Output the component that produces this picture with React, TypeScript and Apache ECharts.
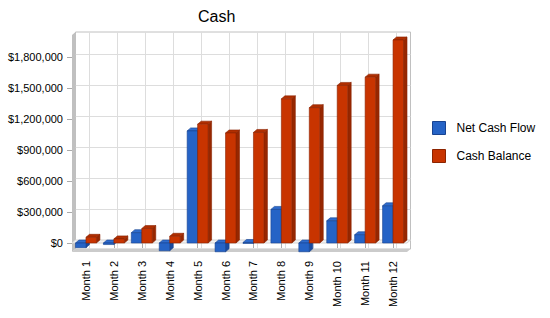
import React, { useEffect, useRef } from "react";
import * as echarts from "echarts";

const months = ["Month 1", "Month 2", "Month 3", "Month 4", "Month 5", "Month 6", "Month 7", "Month 8", "Month 9", "Month 10", "Month 11", "Month 12"];
const netCashFlow = [-45000, -15000, 100000, -75000, 1085000, -85000, 5000, 325000, -85000, 215000, 80000, 360000];
const cashBalance = [55000, 40000, 140000, 65000, 1150000, 1065000, 1070000, 1395000, 1310000, 1525000, 1605000, 1965000];
const yTicks = [0, 300000, 600000, 900000, 1200000, 1500000, 1800000];
const seriesNames = ["Net Cash Flow", "Cash Balance"];
const Y_MIN = -87000;
const Y_MAX = 2013000;

const FONT = "'Liberation Sans', Arial, sans-serif";
const BLUE = { front: "#2563c6", side: "#1a4a9e", top: "#2e6bcc", edge: "#184391" };
const RED = { front: "#c83400", side: "#972700", top: "#b02e00", edge: "#8c2400" };
const DX = 3.5;
const DY = 3;

function make3DRender(seriesIdx: number, c: typeof BLUE) {
  return (params: any, api: any) => {
    const idx = api.value(0);
    const val = api.value(1);
    const band = api.size([1, 0])[0];
    const w = band * 0.375;
    const p = api.coord([idx, val]);
    const p0 = api.coord([idx, 0]);
    const cx = p[0];
    const x = seriesIdx === 0 ? cx - w : cx;
    const top = Math.min(p[1], p0[1]);
    let bot = Math.max(p[1], p0[1]);
    if (bot - top < 1) bot = top + 1;
    return {
      type: "group",
      children: [
        {
          type: "polygon",
          shape: { points: [[x + w, top], [x + w + DX, top - DY], [x + w + DX, bot - DY], [x + w, bot]] },
          style: { fill: c.side, stroke: c.edge, lineWidth: 0.6 },
        },
        {
          type: "polygon",
          shape: { points: [[x, top], [x + DX, top - DY], [x + w + DX, top - DY], [x + w, top]] },
          style: { fill: c.top, stroke: c.edge, lineWidth: 0.6 },
        },
        {
          type: "rect",
          shape: { x, y: top, width: w, height: bot - top },
          style: { fill: c.front, stroke: c.edge, lineWidth: 0.6 },
        },
      ],
    };
  };
}

function renderFrame(params: any, api: any) {
  const cs = params.coordSys;
  const L = cs.x;
  const T = cs.y;
  const R = cs.x + cs.width;
  const B = cs.y + cs.height;
  const z0 = api.coord([0, 0])[1];
  return {
    type: "group",
    children: [
      {
        type: "polygon",
        shape: { points: [[L, T], [L + DX, T - DY], [L + DX, B - DY], [L, B]] },
        style: { fill: "#c0c0c0" },
      },
      {
        type: "polygon",
        shape: { points: [[L, B], [L + DX, B - DY], [R + DX, B - DY], [R, B]] },
        style: { fill: "#cbcbcb" },
      },
      {
        type: "polygon",
        shape: { points: [[L, z0], [L + DX, z0 - DY], [R + DX, z0 - DY], [R, z0]] },
        style: { fill: "#f3f3f3", stroke: "#d4d4d4", lineWidth: 1 },
      },
    ],
  };
}

export default function App() {
  const ref = useRef<HTMLDivElement>(null);
  useEffect(() => {
    document.body.style.margin = "0";
    if (!ref.current) return;
    const chart = echarts.init(ref.current, undefined, { renderer: "svg" });
    chart.setOption({
      animation: false,
      backgroundColor: "#ffffff",
      textStyle: { fontFamily: FONT },
      title: {
        text: "Cash",
        left: 193,
        top: 3,
        textStyle: { fontSize: 16, fontWeight: "normal", color: "#000", fontFamily: FONT },
      },
      legend: {
        orient: "vertical",
        left: 432,
        top: 121,
        padding: 0,
        itemWidth: 13,
        itemHeight: 13,
        itemGap: 14,
        textStyle: { fontSize: 12, color: "#000", fontFamily: FONT, padding: [0, 0, 0, 6] },
        data: [
          { name: seriesNames[0], icon: "rect", itemStyle: { color: BLUE.front, borderColor: BLUE.edge, borderWidth: 1 } },
          { name: seriesNames[1], icon: "rect", itemStyle: { color: RED.front, borderColor: RED.edge, borderWidth: 1 } },
        ],
      },
      grid: [
        { left: 72, top: 35, width: 335, height: 217 },
        { left: 72 + DX, top: 35 - DY, width: 335, height: 217, show: true, borderColor: "#c0c0c0", borderWidth: 1, backgroundColor: "transparent" },
      ],
      xAxis: [
        {
          type: "category",
          gridIndex: 0,
          data: months,
          axisLine: { show: false },
          axisTick: { show: true, alignWithLabel: true, length: 5, lineStyle: { color: "#aaaaaa" } },
          axisLabel: { rotate: 90, margin: 9, fontSize: 11, color: "#000", fontFamily: FONT, interval: 0 },
          splitLine: { show: false },
        },
        {
          type: "value",
          gridIndex: 1,
          min: -0.5,
          max: 11.5,
          axisLine: { show: false },
          axisTick: { show: false, customValues: months.map((_, i) => i) },
          axisLabel: { show: false, customValues: months.map((_, i) => i) },
          splitLine: { show: true, lineStyle: { color: "#dddddd", width: 1 } },
        },
      ],
      yAxis: [
        {
          type: "value",
          gridIndex: 0,
          min: Y_MIN,
          max: Y_MAX,
          axisLine: { show: false },
          axisTick: { show: true, length: 5, customValues: yTicks, lineStyle: { color: "#aaaaaa" } },
          axisLabel: {
            customValues: yTicks,
            margin: 9,
            fontSize: 11,
            color: "#000",
            fontFamily: FONT,
            formatter: (v: number) => "$" + Math.round(v).toLocaleString("en-US"),
          },
          splitLine: { show: false },
        },
        {
          type: "value",
          gridIndex: 1,
          min: Y_MIN,
          max: Y_MAX,
          axisLine: { show: false },
          axisTick: { show: false, customValues: yTicks },
          axisLabel: { show: false, customValues: yTicks },
          splitLine: { show: true, lineStyle: { color: "#dddddd", width: 1 } },
        },
      ],
      series: [
        {
          type: "custom",
          name: "frame",
          xAxisIndex: 0,
          yAxisIndex: 0,
          z: 1,
          silent: true,
          data: [[0, 0]],
          renderItem: renderFrame,
        },
        {
          type: "custom",
          name: seriesNames[0],
          xAxisIndex: 0,
          yAxisIndex: 0,
          z: 5,
          itemStyle: { color: BLUE.front },
          encode: { x: 0, y: 1 },
          data: netCashFlow.map((v, i) => [i, v]),
          renderItem: make3DRender(0, BLUE),
        },
        {
          type: "custom",
          name: seriesNames[1],
          xAxisIndex: 0,
          yAxisIndex: 0,
          z: 6,
          itemStyle: { color: RED.front },
          encode: { x: 0, y: 1 },
          data: cashBalance.map((v, i) => [i, v]),
          renderItem: make3DRender(1, RED),
        },
      ],
    });
    return () => chart.dispose();
  }, []);
  return <div ref={ref} style={{ width: 550, height: 318 }} />;
}
